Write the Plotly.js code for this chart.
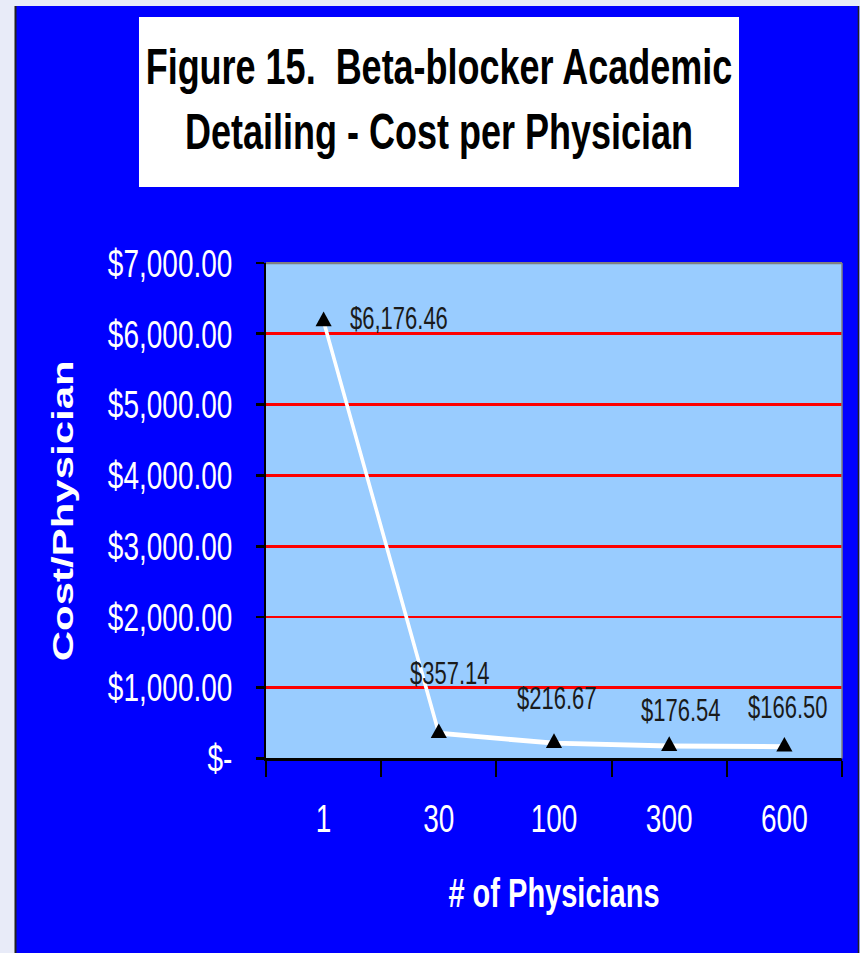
<!DOCTYPE html>
<html>
<head>
<meta charset="utf-8">
<script src="https://cdn.plot.ly/plotly-3.0.1.min.js"></script>
<style>
  html, body { margin: 0; padding: 0; background: #E8EBF8; }
  #wrap { width: 860px; height: 953px; overflow: hidden; position: relative; }
  #chart { width: 860px; height: 681px; transform: scaleY(1.39941); transform-origin: 0 0; }
</style>
</head>
<body>
<div id="wrap"><div id="chart"></div></div>
<script>
// ---- data ----
const physicians = ["1", "30", "100", "300", "600"];
const costPerPhysician = [6176.46, 357.14, 216.67, 176.54, 166.50];
const costLabels = ["$6,176.46", "$357.14", "$216.67", "$176.54", "$166.50"];
const yTickValues = [0, 1000, 2000, 3000, 4000, 5000, 6000, 7000];
const yTickLabels = ["$-", "$1,000.00", "$2,000.00", "$3,000.00", "$4,000.00", "$5,000.00", "$6,000.00", "$7,000.00"];

// category positions (0..n-1) and boundaries between them
const catIndex = physicians.map((_, i) => i);
const catBounds = physicians.map((_, i) => i - 0.5).concat([physicians.length - 0.5]);

// ---- label placement (render px) ----
const labelAnchor = ["left", "center", "center", "center", "center"];
const labelXShift = [24, 11, 3, 12, 4];
const labelYShift = [2, 42, 32, 26, 28];

const FONT = "'Liberation Sans', Arial, Helvetica, sans-serif";

const trace = {
  type: "scatter",
  mode: "lines+markers",
  x: catIndex,
  y: costPerPhysician,
  text: physicians,
  line: { color: "#FFFFFF", width: 3.5 },
  marker: { symbol: "triangle-up", size: 14, color: "#000000" },
  hovertemplate: "%{text}: %{y}<extra></extra>",
  showlegend: false
};

const annotations = catIndex.map((xi, i) => ({
  x: xi, y: costPerPhysician[i], xref: "x", yref: "y",
  text: costLabels[i], showarrow: false,
  xanchor: labelAnchor[i], yanchor: "middle",
  xshift: labelXShift[i], yshift: labelYShift[i],
  font: { family: FONT, size: 22, color: "#1a1a1a" }
}));

const shapes = [
  // title box
  { type: "rect", xref: "paper", yref: "paper", x0: -0.2205, x1: 0.8212, y0: 1.1536, y1: 1.4968,
    fillcolor: "#FFFFFF", line: { width: 0 }, layer: "below" },
  // left light strip + dark edge
  { type: "rect", xref: "paper", yref: "paper", x0: -0.48, x1: -0.4358, y0: -0.5, y1: 1.6,
    fillcolor: "#E8EBF8", line: { width: 0 }, layer: "below" },
  { type: "line", xref: "paper", yref: "paper", x0: -0.4349, x1: -0.4349, y0: -0.5, y1: 1.519,
    line: { color: "#202020", width: 2 }, layer: "below" },
  // top light strip
  { type: "rect", xref: "paper", yref: "paper", x0: -0.5, x1: 1.1, y0: 1.519, y1: 1.6,
    fillcolor: "#E8EBF8", line: { width: 0 }, layer: "below" },
  // right dark edge + light strip
  { type: "line", xref: "paper", yref: "paper", x0: 1.0286, x1: 1.0286, y0: -0.5, y1: 1.519,
    line: { color: "#202020", width: 1.5 }, layer: "below" },
  { type: "rect", xref: "paper", yref: "paper", x0: 1.0302, x1: 1.1, y0: -0.5, y1: 1.519,
    fillcolor: "#E8EBF8", line: { width: 0 }, layer: "below" },
  // plot area border top/right (grey)
  { type: "line", xref: "paper", yref: "paper", x0: 0, x1: 1, y0: 1, y1: 1,
    line: { color: "#808080", width: 1.5 }, layer: "above" },
  { type: "line", xref: "paper", yref: "paper", x0: 1, x1: 1, y0: 0, y1: 1,
    line: { color: "#808080", width: 1.5 }, layer: "above" }
];

const layout = {
  width: 860, height: 681,
  margin: { l: 266, r: 18, t: 188, b: 139, pad: 0 },
  paper_bgcolor: "#0000FF",
  plot_bgcolor: "#99CCFF",
  font: { family: FONT, color: "#FFFFFF" },
  title: {
    text: "Figure 15.\u00A0 Beta-blocker Academic<br>Detailing - Cost per Physician",
    font: { family: FONT, size: 36, color: "#000000", weight: "bold" },
    xref: "paper", yref: "container", x: 0.3003, xanchor: "center", y: 0.912, yanchor: "middle"
  },
  xaxis: {
    type: "linear",
    range: [-0.5, physicians.length - 0.5],
    tickmode: "array", tickvals: catIndex, ticktext: physicians,
    ticks: "",
    minor: { tickmode: "array", tickvals: catBounds, ticks: "outside", ticklen: 11, tickwidth: 2, tickcolor: "#000000", showgrid: false },
    showline: true, linecolor: "#000000", linewidth: 2,
    showgrid: false, zeroline: false,
    tickfont: { family: FONT, size: 28, color: "#FFFFFF" },
    ticklabelstandoff: 17,
    title: { text: "# of Physicians", font: { family: FONT, size: 29, color: "#FFFFFF", weight: "bold" }, standoff: 28 },
    automargin: false,
    fixedrange: true
  },
  yaxis: {
    range: [0, 7000],
    tickmode: "array", tickvals: yTickValues, ticktext: yTickLabels,
    ticks: "outside", ticklen: 8, tickwidth: 2, tickcolor: "#000000",
    showline: true, linecolor: "#000000", linewidth: 2,
    showgrid: true, gridcolor: "#FF0000", gridwidth: 2,
    zeroline: false,
    tickfont: { family: FONT, size: 28, color: "#FFFFFF" },
    ticklabelstandoff: 18,
    title: { text: "Cost/Physician", font: { family: FONT, size: 30, color: "#FFFFFF", weight: "bold" }, standoff: 25 },
    automargin: false,
    fixedrange: true
  },
  shapes: shapes,
  annotations: annotations,
  showlegend: false
};

Plotly.newPlot("chart", [trace], layout, { displayModeBar: false });
</script>
</body>
</html>
